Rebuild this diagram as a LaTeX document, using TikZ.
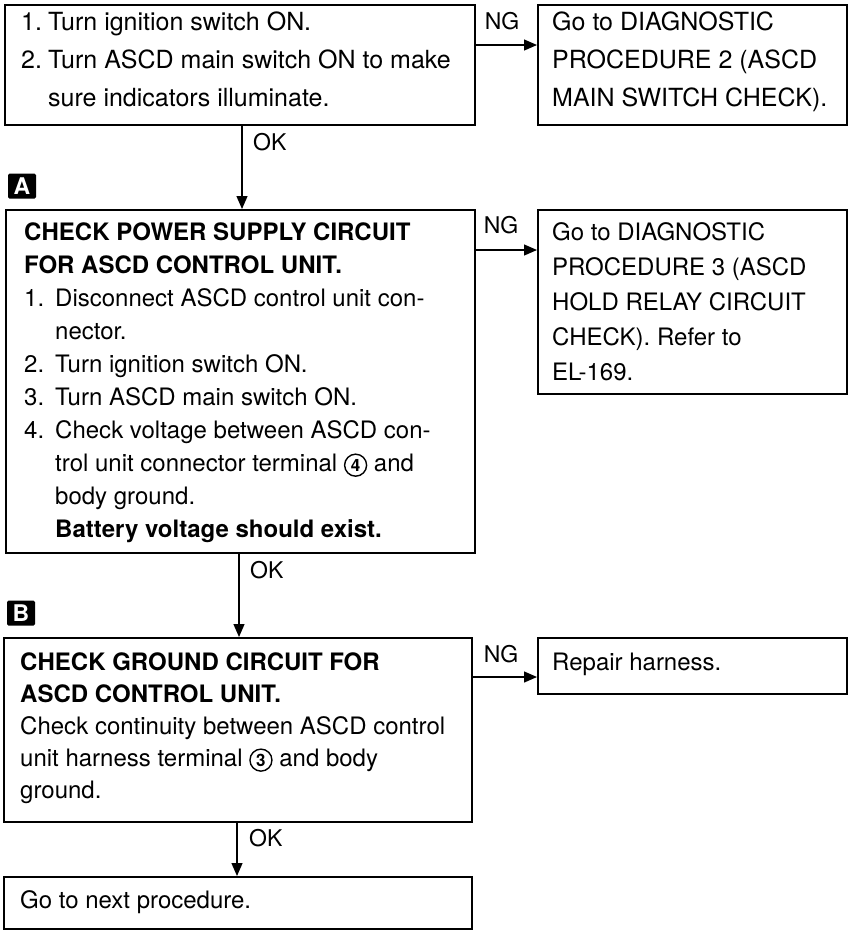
\documentclass[tikz,border=0pt]{standalone}
\usepackage{fontspec}
\setmainfont{TeX Gyre Heros}
\usetikzlibrary{arrows.meta}
\newcommand\fl{\rule{0pt}{20pt}}
\newcommand\nma[1]{\makebox[27pt][l]{#1}}
\newcommand\inda{\hspace*{27pt}}
\newcommand\nmb[1]{\makebox[31pt][l]{#1}}
\newcommand\indb{\hspace*{31pt}}
\newcommand\cnum[1]{\tikz[baseline=(cn.base)]\node[draw,circle,line width=1.4pt,inner sep=0pt,minimum size=22pt,anchor=center,font=\fontsize{17}{17}\bfseries\selectfont](cn){#1};}
\begin{document}
\begin{tikzpicture}[x=1pt,y=-1pt,
  box/.style={draw,line width=1.5pt,rectangle,inner sep=0pt,anchor=north west},
  txt/.style={anchor=north west,inner sep=0pt,align=left},
  arr/.style={line width=1.3pt,-{Triangle[length=13pt,width=11pt]}},
  lbl/.style={inner sep=0pt,font=\fontsize{23}{23}\selectfont},
  marker/.style={fill=black,text=white,inner sep=0pt,minimum width=28pt,minimum height=25pt,rounded corners=1.5pt,font=\fontsize{23}{23}\bfseries\selectfont}]
\useasboundingbox (0,0) rectangle (849,930);
% boxes
\node[box,minimum width=470pt,minimum height=120pt] (b1) at (4,4) {};
\node[box,minimum width=309pt,minimum height=120pt] (n1) at (537,4) {};
\node[box,minimum width=469pt,minimum height=343pt] (bA) at (5,209) {};
\node[box,minimum width=309pt,minimum height=184pt] (n2) at (537,209) {};
\node[box,minimum width=468pt,minimum height=184pt] (bB) at (3,637) {};
\node[box,minimum width=309pt,minimum height=56pt] (n3) at (537,637) {};
\node[box,minimum width=468pt,minimum height=52pt] (bF) at (3,876) {};
% texts
\node[txt,font=\fontsize{25}{38}\selectfont] (t1) at (21,10) {\fl\nma{1.}Turn ignition switch ON.\\
\nma{2.}Turn ASCD main switch ON to make\\
\inda sure indicators illuminate.};
\node[txt,font=\fontsize{25}{38}\selectfont] (tn1) at (552,10) {\fl Go to DIAGNOSTIC\\
PROCEDURE 2 (ASCD\\
MAIN SWITCH CHECK).};
\node[txt,font=\fontsize{24}{33}\selectfont] (tA) at (24,220) {\fl\textbf{CHECK POWER SUPPLY CIRCUIT}\\
\textbf{FOR ASCD CONTROL UNIT.}\\
\nmb{1.}Disconnect ASCD control unit con-\\
\indb nector.\\
\nmb{2.}Turn ignition switch ON.\\
\nmb{3.}Turn ASCD main switch ON.\\
\nmb{4.}Check voltage between ASCD con-\\
\indb trol unit connector terminal \cnum{4} and\\
\indb body ground.\\
\indb\textbf{Battery voltage should exist.}};
\node[txt,font=\fontsize{24}{35}\selectfont] (tn2) at (552,220) {\fl Go to DIAGNOSTIC\\
PROCEDURE 3 (ASCD\\
HOLD RELAY CIRCUIT\\
CHECK). Refer to\\
EL-169.};
\node[txt,font=\fontsize{24}{32}\selectfont] (tB) at (20,650) {\fl\textbf{CHECK GROUND CIRCUIT FOR}\\
\textbf{ASCD CONTROL UNIT.}\\
Check continuity between ASCD control\\
unit harness terminal \cnum{3} and body\\
ground.};
\node[txt,font=\fontsize{24}{32}\selectfont] (tn3) at (552,650) {\fl Repair harness.};
\node[txt,font=\fontsize{24}{32}\selectfont] (tF) at (20,888) {\fl Go to next procedure.};
% markers
\node[marker] (mA) at (22,186) {A};
\node[marker] (mB) at (21,613) {B};
% labels
\node[lbl,anchor=west] (ok1) at (253,142) {OK};
\node[lbl,anchor=west] (ok2) at (250,570) {OK};
\node[lbl,anchor=west] (ok3) at (249,838) {OK};
\node[lbl] (ng1) at (502,21) {NG};
\node[lbl] (ng2) at (501,225) {NG};
\node[lbl] (ng3) at (501,654) {NG};
% connectors
\coordinate (c1) at (0,45);
\coordinate (c2) at (0,250);
\coordinate (c3) at (0,677);
\coordinate (v1) at (242,0);
\coordinate (v2) at (239,0);
\coordinate (v3) at (237,0);
\draw[arr] (c1 -| b1.east) -- (c1 -| n1.west);
\draw[arr] (c2 -| bA.east) -- (c2 -| n2.west);
\draw[arr] (c3 -| bB.east) -- (c3 -| n3.west);
\draw[arr] (v1 |- b1.south) -- (v1 |- bA.north);
\draw[arr] (v2 |- bA.south) -- (v2 |- bB.north);
\draw[arr] (v3 |- bB.south) -- (v3 |- bF.north);
\end{tikzpicture}
\end{document}
